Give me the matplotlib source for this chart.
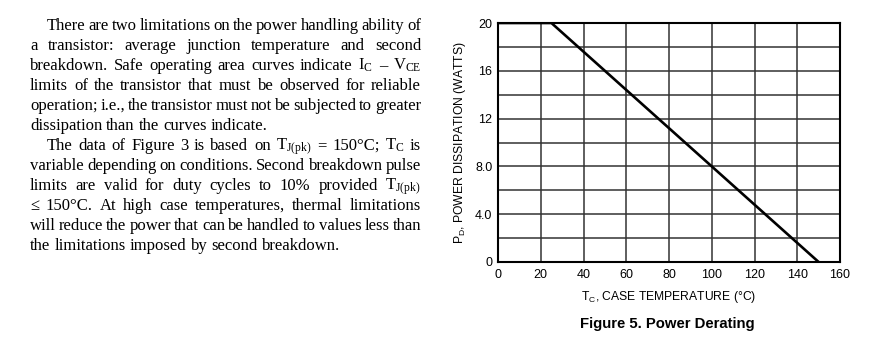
import matplotlib.pyplot as plt

# derating curve
temp_c = [0, 25, 150]
power_w = [20, 20, 0]

x_ticks = [0, 20, 40, 60, 80, 100, 120, 140, 160]
y_ticks = [0, 4, 8, 12, 16, 20]
y_tick_labels = ['0', '4.0', '8.0', '12', '16', '20']
y_minor = [2, 6, 10, 14, 18]

# paragraph text, one entry per printed line: (words, justified, indented)
text_lines = [
    ("There are two limitations on the power handling ability of", True, True),
    ("a transistor: average junction temperature and second", True, False),
    (r"breakdown. Safe operating area curves indicate $\mathrm{I_C}$ – $\mathrm{V_{CE}}$", True, False),
    ("limits of the transistor that must be observed for reliable", True, False),
    ("operation; i.e., the transistor must not be subjected to greater", True, False),
    ("dissipation than the curves indicate.", False, False),
    (r"The data of Figure 3 is based on $\mathrm{T_{J(pk)}}$ = 150°C; $\mathrm{T_C}$ is", True, True),
    ("variable depending on conditions. Second breakdown pulse", True, False),
    (r"limits are valid for duty cycles to 10% provided $\mathrm{T_{J(pk)}}$", True, False),
    ("≤ 150°C. At high case temperatures, thermal limitations", True, False),
    ("will reduce the power that can be handled to values less than", True, False),
    ("the limitations imposed by second breakdown.", False, False),
]

plt.rcParams['mathtext.fontset'] = 'custom'
plt.rcParams['mathtext.rm'] = 'Liberation Serif'
plt.rcParams['mathtext.sf'] = 'Liberation Sans'

W, H = 876, 357
fig = plt.figure(figsize=(W / 100, H / 100), dpi=100)
renderer = fig.canvas.get_renderer()

serif = ['Liberation Serif', 'DejaVu Serif']
sans = ['Liberation Sans', 'DejaVu Sans']
fs_txt = 12.0

# --- left text, justified by hand ---
x_left, x_right, indent = 30, 421, 47
sp = fig.text(0, 0, 'a a', fontsize=fs_txt, family=serif)
sa = fig.text(0, 0, 'aa', fontsize=fs_txt, family=serif)
space = sp.get_window_extent(renderer).width - sa.get_window_extent(renderer).width
sp.remove()
sa.remove()
for i, (line, justify, ind) in enumerate(text_lines):
    y = H - (30 + 20 * i)
    x0 = indent if ind else x_left
    items = []
    for w in line.split(' '):
        t = fig.text(0, y / H, w, fontsize=fs_txt, family=serif, va='baseline', ha='left')
        items.append((t, t.get_window_extent(renderer).width))
    total = sum(wd for _, wd in items)
    gap = (x_right - x0 - total) / (len(items) - 1) if justify else space
    x = x0
    for t, wd in items:
        t.set_x(x / W)
        x += wd + gap

# --- chart ---
ax = fig.add_axes([498 / W, (H - 262) / H, 342 / W, 239 / H])
ax.plot(temp_c, power_w, color='black', lw=1.9, solid_capstyle='butt', zorder=3)
ax.set_xlim(0, 160)
ax.set_ylim(0, 20)
ax.set_xticks(x_ticks)
ax.set_yticks(y_ticks)
ax.set_yticklabels(y_tick_labels)
ax.set_yticks(y_minor, minor=True)
ax.grid(True, which='both', color='#333333', lw=1.1)
ax.tick_params(which='both', length=0)
ax.tick_params(axis='x', pad=5)
ax.tick_params(axis='y', pad=4)
for lab in ax.get_xticklabels() + ax.get_yticklabels():
    lab.set_family(sans)
    lab.set_fontsize(9)
for s in ax.spines.values():
    s.set_linewidth(1.5)
ax.set_xlabel(r'$\mathsf{T_C}$, CASE TEMPERATURE (°C)', family=sans, fontsize=8.7, labelpad=6)
ax.set_ylabel(r'$\mathsf{P_D}$, POWER DISSIPATION (WATTS)', family=sans, fontsize=8.7, labelpad=5)

fig.text(667.5 / W, (H - 328) / H, 'Figure 5. Power Derating', ha='center', va='baseline',
         fontsize=10.7, fontweight='bold', family=sans)

fig.savefig('out.png', dpi=100)
